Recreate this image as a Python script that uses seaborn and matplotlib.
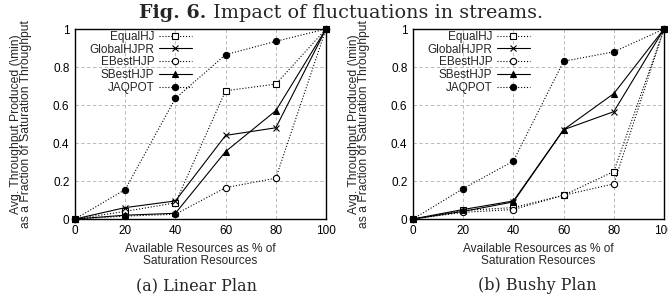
import matplotlib
matplotlib.use("Agg")
import matplotlib.pyplot as plt
import seaborn as sns
import pandas as pd

sns.set_theme(style="white")
plt.rcParams['font.family'] = ['Liberation Sans', 'DejaVu Sans']

x_vals = [0, 20, 40, 60, 80, 100]
series_names = ["EqualHJ", "GlobalHJPR", "EBestHJP", "SBestHJP", "JAQPOT"]

linear_equalhj = [0, 0.04, 0.085, 0.675, 0.71, 1]
linear_globalhjpr = [0, 0.06, 0.095, 0.44, 0.48, 1]
linear_ebesthjp = [0, 0.015, 0.025, 0.165, 0.215, 1]
linear_sbesthjp = [0, 0.02, 0.03, 0.355, 0.57, 1]
linear_jaqpot = [0, 0.155, 0.635, 0.865, 0.935, 1]

bushy_equalhj = [0, 0.045, 0.06, 0.125, 0.25, 1]
bushy_globalhjpr = [0, 0.04, 0.09, 0.47, 0.565, 1]
bushy_ebesthjp = [0, 0.035, 0.05, 0.125, 0.185, 1]
bushy_sbesthjp = [0, 0.05, 0.095, 0.47, 0.66, 1]
bushy_jaqpot = [0, 0.16, 0.305, 0.83, 0.88, 1]

x_ticks = [0, 20, 40, 60, 80, 100]
y_ticks = [0, 0.2, 0.4, 0.6, 0.8, 1]
y_tick_labels = ["0", "0.2", "0.4", "0.6", "0.8", "1"]

styles = {
    "EqualHJ": dict(marker="s", ls=":", mfc="white"),
    "GlobalHJPR": dict(marker="x", ls="-", mfc="black"),
    "EBestHJP": dict(marker="o", ls=":", mfc="white"),
    "SBestHJP": dict(marker="^", ls="-", mfc="black"),
    "JAQPOT": dict(marker="o", ls=":", mfc="black"),
}

fig = plt.figure(figsize=(6.68, 3.01), dpi=100)
ax1 = fig.add_axes([75/668, 1-219/301, 251/668, 190/301])
ax2 = fig.add_axes([413/668, 1-219/301, 251/668, 190/301])

def draw(ax, data):
    for name, vals in zip(series_names, data):
        st = styles[name]
        df = pd.DataFrame({"x": x_vals, "y": vals})
        sns.lineplot(data=df, x="x", y="y", ax=ax, color="black", lw=0.8,
                     linestyle=st["ls"], marker=st["marker"], markersize=4.5,
                     markerfacecolor=st["mfc"], markeredgecolor="black",
                     markeredgewidth=0.8, label=name, clip_on=False)
    ax.set_xlim(0, 100)
    ax.set_ylim(0, 1)
    ax.set_xticks(x_ticks)
    ax.set_xticklabels([str(t) for t in x_ticks])
    ax.set_yticks(y_ticks)
    ax.set_yticklabels(y_tick_labels)
    ax.tick_params(labelsize=8.5, direction="in", length=3, colors="black", pad=4)
    ax.grid(True, color="#b0b0b0", ls=(0, (4, 3)), lw=0.6)
    for s in ax.spines.values():
        s.set_color("black")
        s.set_linewidth(1.0)
    ax.set_xlabel("Available Resources as % of\nSaturation Resources", fontsize=8.6,
                  labelpad=5, linespacing=0.95)
    ax.set_ylabel("Avg. Throughput Produced (\\min)\nas a Fraction of Saturation Throughput",
                  fontsize=8.7, linespacing=0.8)
    ax.yaxis.set_label_coords(-0.172, 0.5)
    ax.legend(loc="upper right", frameon=False, markerfirst=False, fontsize=8.5,
              handlelength=2.8, handletextpad=0.4, labelspacing=0.06,
              borderpad=0, borderaxespad=0, bbox_to_anchor=(0.466, 0.99))

draw(ax1, [linear_equalhj, linear_globalhjpr, linear_ebesthjp, linear_sbesthjp, linear_jaqpot])
draw(ax2, [bushy_equalhj, bushy_globalhjpr, bushy_ebesthjp, bushy_sbesthjp, bushy_jaqpot])

# title: bold "Fig. 6." followed by regular text
fig.canvas.draw()
renderer = fig.canvas.get_renderer()
tsize = 13.8
t1 = fig.text(0, 0, "Fig. 6.", fontsize=tsize, fontweight="bold", family="DejaVu Serif", va="baseline")
t2 = fig.text(0, 0, " Impact of fluctuations in streams.", fontsize=tsize, family="DejaVu Serif", va="baseline")
w1 = t1.get_window_extent(renderer).width
w2 = t2.get_window_extent(renderer).width
total = w1 + w2
x0 = 341 - total / 2
ybase = 1 - 18/301
t1.set_position((x0/668, ybase))
t2.set_position(((x0 + w1)/668, ybase))

fig.text(197/668, 1-286/301, "(a) Linear Plan", ha="center", va="center", fontsize=11.5, family="DejaVu Serif")
fig.text(537/668, 1-286/301, "(b) Bushy Plan", ha="center", va="center", fontsize=11.5, family="DejaVu Serif")

fig.savefig("out.png", dpi=100)
